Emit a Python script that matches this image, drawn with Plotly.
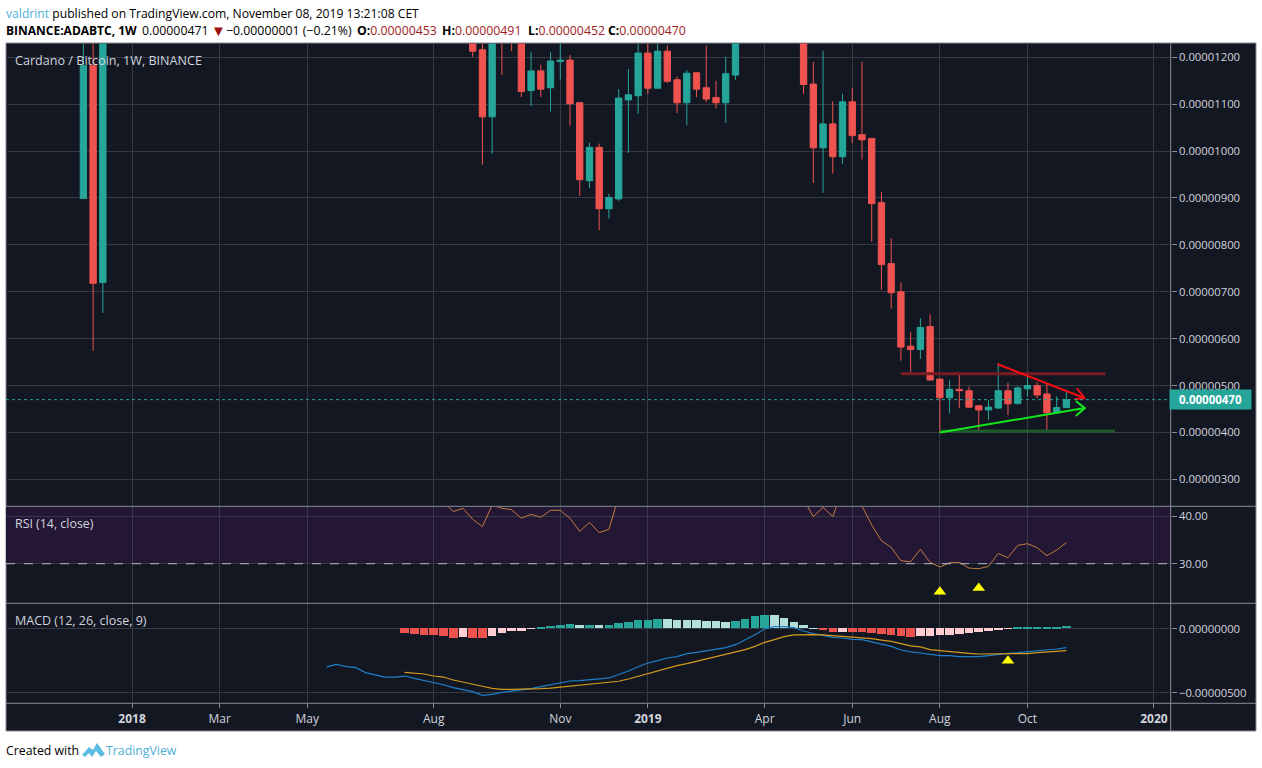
import pandas as pd
import plotly.graph_objects as go
from plotly.subplots import make_subplots

W, H = 1262, 768
BASE = pd.Timestamp("2018-01-01")
U = 1e-6


def wk(k):
    return (BASE + pd.to_timedelta(k * 7, unit="D")).isoformat()


# Candles (week index from 2018-01-01, prices in 1e-6 BTC)
weeks = [-5, -4, -3] + list(range(35, 63)) + list(range(69, 97))
opens = [8.99, 11.82, 7.20,
         12.50, 12.16, 10.73, 13.50, 13.40, 12.50, 11.29, 11.71, 11.35, 11.91, 11.94, 11.03, 9.37, 10.08,
         8.77, 8.98, 11.09, 11.18, 12.09, 11.34, 12.13, 11.52, 11.03, 11.67, 11.35, 11.14, 11.03, 11.62,
         12.60, 11.43, 10.07, 10.58, 9.88, 11.05, 10.35, 10.27, 8.90, 7.60, 7.00, 5.84, 5.77, 6.26,
         5.14, 4.74, 4.92, 4.89, 4.57, 4.48, 4.52, 4.89, 4.62, 4.93, 5.00, 4.82, 4.42, 4.53]
highs = [12.50, 12.50, 13.00,
         12.60, 12.40, 12.80, 13.60, 13.50, 12.80, 12.12, 11.84, 12.11, 12.30, 12.05, 11.05, 10.18, 10.16,
         9.09, 11.32, 11.75, 12.30, 12.30, 12.30, 12.25, 11.59, 11.73, 11.69, 12.25, 11.50, 12.01, 12.80,
         12.80, 11.90, 12.14, 11.06, 11.22, 11.35, 11.91, 10.27, 9.13, 8.14, 7.20, 6.14, 6.44, 6.52,
         5.14, 5.11, 5.23, 4.98, 4.57, 4.69, 5.46, 5.06, 4.99, 5.28, 5.07, 5.05, 4.77, 4.91]
lows = [8.99, 5.74, 6.55,
        12.01, 9.71, 9.94, 11.62, 12.13, 11.15, 10.96, 11.15, 10.84, 11.53, 10.54, 9.05, 9.21, 8.31,
        8.56, 8.94, 9.96, 10.79, 11.22, 11.34, 11.45, 10.81, 10.55, 11.15, 11.04, 10.91, 10.60, 11.52,
        11.22, 9.32, 9.11, 9.52, 9.73, 10.17, 9.82, 8.07, 7.04, 6.64, 5.53, 5.26, 5.57, 5.10,
        4.00, 4.41, 4.52, 4.53, 4.05, 4.27, 4.50, 4.37, 4.59, 4.77, 4.73, 4.02, 4.42, 4.52]
closes = [11.82, 7.18, 12.60,
          12.13, 10.73, 12.60, 12.50, 12.40, 11.27, 11.71, 11.32, 11.92, 11.94, 11.01, 9.39, 10.08, 8.77,
          9.01, 11.13, 11.20, 12.09, 11.34, 12.13, 11.49, 11.03, 11.66, 11.32, 11.11, 11.03, 11.65, 12.60,
          11.42, 10.07, 10.58, 9.88, 11.05, 10.33, 10.24, 8.88, 7.58, 6.98, 5.82, 5.77, 6.24, 5.12,
          4.74, 4.92, 4.89, 4.54, 4.48, 4.54, 4.89, 4.61, 4.95, 5.00, 4.80, 4.42, 4.53, 4.70]

# RSI (14), None where the line runs off the pane
rsi_weeks = list(range(32, 51)) + [None] + list(range(69, 74)) + [None] + list(range(75, 97))
rsi_vals = [43.1, 40.99, 41.69, 39.37, 37.82, 42.39, 41.69, 41.41, 39.58, 40.42, 39.79, 41.27, 41.27, 39.58,
            36.83, 38.73, 36.55, 37.25, 44.2, None,
            43.6, 39.93, 41.9, 39.93, 45.8, None,
            42.2, 38.17, 34.86, 33.45, 30.63, 30.42, 33.03, 30.28, 29.3, 30.21, 30.28, 29.08, 28.94, 29.44,
            32.18, 31.27, 33.87, 34.23, 33.38, 31.69, 32.89, 34.44]

# MACD (values in 1e-6)
macd_weeks = list(range(20, 97))
macd_vals = [-2.99, -2.79, -2.97, -3.05, -3.44, -3.62, -3.78, -3.78, -3.70, -3.88, -4.04, -4.19, -4.38, -4.61,
             -4.77, -4.92, -5.21, -5.13, -4.97, -4.87, -4.82, -4.69, -4.53, -4.38, -4.19, -4.09, -4.06, -4.01,
             -3.93, -3.85, -3.59, -3.31, -2.97, -2.68, -2.50, -2.29, -2.19, -1.95, -1.85, -1.72, -1.64, -1.48,
             -1.25, -0.89, -0.47, -0.03, 0.16, 0.16, 0.08, -0.18, -0.39, -0.52, -0.68, -0.73, -0.83, -0.86,
             -1.04, -1.22, -1.38, -1.67, -1.82, -1.90, -2.03, -2.11, -2.11, -2.19, -2.19, -2.19, -2.11, -2.00,
             -1.93, -1.88, -1.82, -1.74, -1.67, -1.59, -1.48]
signal_weeks = list(range(28, 97))
signal_vals = [-3.41, -3.49, -3.54, -3.70, -3.78, -4.01, -4.19, -4.35, -4.50, -4.66, -4.74, -4.74, -4.74, -4.71,
               -4.69, -4.64, -4.56, -4.48, -4.43, -4.35, -4.27, -4.19, -4.11, -3.93, -3.72, -3.52, -3.31, -3.13,
               -2.89, -2.73, -2.55, -2.40, -2.24, -2.06, -1.88, -1.64, -1.38, -1.07, -0.86, -0.62, -0.49, -0.47,
               -0.47, -0.49, -0.55, -0.60, -0.65, -0.70, -0.78, -0.89, -0.99, -1.17, -1.35, -1.43, -1.64, -1.72,
               -1.80, -1.85, -1.93, -1.98, -1.98, -1.98, -1.98, -1.98, -1.95, -1.88, -1.82, -1.80, -1.72]
hist_weeks = list(range(28, 97))
hist_vals = [-0.36, -0.44, -0.52, -0.52, -0.60, -0.78, -0.68, -0.78, -0.78, -0.60, -0.36, -0.23, -0.23, -0.03,
             0.03, 0.18, 0.29, 0.36, 0.26, 0.26, 0.29, 0.26, 0.42, 0.52, 0.65, 0.65, 0.73, 0.76, 0.65, 0.65,
             0.65, 0.55, 0.55, 0.47, 0.57, 0.73, 0.96, 1.04, 1.04, 0.81, 0.49, 0.26, 0.02, -0.07, -0.29, -0.26,
             -0.26, -0.30, -0.39, -0.44, -0.49, -0.60, -0.68, -0.60, -0.60, -0.49, -0.49, -0.42, -0.36, -0.29,
             -0.20, -0.13, -0.02, 0.05, 0.10, 0.10, 0.10, 0.10, 0.20]
# r = falling red, p = rising pink, t = rising teal, l = falling pale teal
hist_kind = list("rrrrrr" "p" "rr" "ppppp" "tttt" "l" "t" "l" "t" "ttttt" "lllllll" "tttt" "lllll"
                 "rr" "p" "rrrrrrr" "pppppppppp" "tttttt")
HIST_COLORS = {"r": "#ef5350", "p": "#ffcdd2", "t": "#26a69a", "l": "#b2dfdb"}

# Drawings on the price pane
resist_weeks, resist_vals = [79, 100], [5.25, 5.25]
support_weeks, support_vals = [83, 101], [4.03, 4.03]
red_weeks = [88.9, 97.9, 97.07, 97.9, 96.83]
red_vals = [5.46, 4.73, 4.94, 4.73, 4.71]
green_weeks = [83, 97.9, 96.97, 97.9, 96.97]
green_vals = [4.00, 4.52, 4.67, 4.52, 4.35]
last_price = 4.70

# Yellow markers
rsi_mark_weeks, rsi_mark_vals = [83, 87], [24.1, 24.9]
macd_mark_weeks, macd_mark_vals = [90], [-2.5]

tick_weeks = [0, 9, 18, 31, 44, 53, 65, 74, 83, 92, 105]
tick_labels = ["<b>2018</b>", "Mar", "May", "Aug", "Nov", "<b>2019</b>", "Apr", "Jun", "Aug", "Oct", "<b>2020</b>"]

BG = "#131722"
GRID = "#363a45"
EDGE = "#8a8d96"
TXT = "#d1d4dc"
TEAL = "#26a69a"
RED = "#ef5350"
FONT = "Open Sans"


def fx(x):
    return x / W


def fy(y):
    return 1 - y / H


fig = make_subplots(rows=3, cols=1, shared_xaxes=True, vertical_spacing=0)

fig.add_trace(go.Candlestick(
    x=[wk(k) for k in weeks], open=[v * U for v in opens], high=[v * U for v in highs],
    low=[v * U for v in lows], close=[v * U for v in closes],
    increasing=dict(line=dict(color=TEAL, width=1), fillcolor=TEAL),
    decreasing=dict(line=dict(color=RED, width=1), fillcolor=RED),
    showlegend=False), row=1, col=1)


def line(xs, ys, color, width, row, scale=1.0):
    fig.add_trace(go.Scatter(
        x=[None if k is None else wk(k) for k in xs],
        y=[None if v is None else v * scale for v in ys],
        mode="lines", line=dict(color=color, width=width), showlegend=False), row=row, col=1)


line(resist_weeks, resist_vals, "#7b1c22", 3, 1, U)
line(support_weeks, support_vals, "#1d5a28", 3, 1, U)
line(red_weeks, red_vals, "#f20d14", 2, 1, U)
line(green_weeks, green_vals, "#14e61e", 2, 1, U)

line(rsi_weeks, rsi_vals, "#c27c3e", 1, 2)
fig.add_trace(go.Scatter(x=[wk(k) for k in rsi_mark_weeks], y=rsi_mark_vals, mode="markers",
                         marker=dict(symbol="triangle-up", size=11, color="#ffff00"),
                         showlegend=False), row=2, col=1)

fig.add_trace(go.Bar(x=[wk(k) for k in hist_weeks], y=[v * U for v in hist_vals],
                     marker=dict(color=[HIST_COLORS[c] for c in hist_kind], line=dict(width=0)),
                     width=7 * 86400000 * 0.88, showlegend=False), row=3, col=1)
line(macd_weeks, macd_vals, "#1f7fc9", 1.2, 3, U)
line(signal_weeks, signal_vals, "#d29a1e", 1.2, 3, U)
fig.add_trace(go.Scatter(x=[wk(k) for k in macd_mark_weeks], y=[v * U for v in macd_mark_vals], mode="markers",
                         marker=dict(symbol="triangle-up", size=11, color="#ffff00"),
                         showlegend=False), row=3, col=1)

tickvals = [wk(k) for k in tick_weeks]
fig.update_xaxes(range=[wk(-12.95), wk(106.72)], tickvals=tickvals, ticktext=tick_labels,
                 showgrid=True, gridcolor=GRID, gridwidth=1, zeroline=False, showline=False,
                 rangeslider_visible=False, domain=[fx(6), fx(1170.7)],
                 tickfont=dict(family=FONT, size=12, color=TXT))
fig.update_xaxes(ticks="outside", ticklen=4, tickcolor=EDGE, row=3, col=1)

axis_common = dict(side="right", showgrid=True, gridcolor=GRID, gridwidth=1, zeroline=False, showline=False,
                   ticks="outside", ticklen=5, tickcolor=EDGE,
                   tickfont=dict(family=FONT, size=11.3, color=TXT))
fig.update_yaxes(range=[2.426 * U, 12.294 * U], domain=[fy(506.3), fy(43.5)], tickmode="array",
                 tickvals=[v * U for v in range(3, 13)], tickformat=".8f", row=1, col=1, **axis_common)
fig.update_yaxes(range=[21.65, 42.11], domain=[fy(603.3), fy(506.3)], tickmode="array",
                 tickvals=[30, 40], tickformat=".2f", row=2, col=1, **axis_common)
fig.update_yaxes(range=[-5.83 * U, 1.98 * U], domain=[fy(703.3), fy(603.3)], tickmode="array",
                 tickvals=[-5 * U, 0.0], tickformat=".8f", row=3, col=1, **axis_common)

shapes = [
    dict(type="rect", xref="paper", yref="paper", x0=fx(6), x1=fx(1256), y0=fy(731), y1=fy(43),
         fillcolor=BG, line=dict(color=EDGE, width=1), layer="below"),
    dict(type="rect", xref="x domain", yref="y2", x0=0, x1=1, y0=30, y1=42.11,
         fillcolor="#241736", line=dict(width=0), layer="below"),
    dict(type="line", xref="x domain", yref="y2", x0=0, x1=1, y0=30, y1=30,
         line=dict(color="#b5b8c2", width=1, dash="dash")),
    dict(type="line", xref="x domain", yref="y", x0=0, x1=1, y0=last_price * U, y1=last_price * U,
         line=dict(color=TEAL, width=1, dash="dot")),
]
for y in (506.3, 603.3, 703.3):
    shapes.append(dict(type="line", xref="paper", yref="paper", x0=fx(6), x1=fx(1256), y0=fy(y), y1=fy(y),
                       line=dict(color=EDGE, width=1)))
shapes.append(dict(type="line", xref="paper", yref="paper", x0=fx(1170.7), x1=fx(1170.7), y0=fy(43), y1=fy(731),
                   line=dict(color=EDGE, width=1)))
logo = [(82, 755), (89, 747), (93, 750), (97, 743), (105, 754), (101, 757), (96, 751), (92, 757), (89, 753), (85, 757)]
shapes.append(dict(type="path", xref="paper", yref="paper",
                   path="M" + " L".join(f"{fx(a):.5f},{fy(b):.5f}" for a, b in logo) + " Z",
                   fillcolor="#5cbde4", line=dict(width=0)))


def label(x, y, text, size=12.5, color="#000000"):
    return dict(xref="paper", yref="paper", x=fx(x - 2), y=fy(y), xanchor="left", yanchor="middle", text=text,
                showarrow=False, align="left", font=dict(family=FONT, size=size, color=color))


DM = '<span style="color:#a01c1c">'
annotations = [
    label(6, 13, '<span style="color:#4fb0d8">valdrint</span> published on TradingView.com, '
                 'November 08, 2019 13:21:08 CET', 12.15),
    label(6, 30, '<b>BINANCE:ADABTC, 1W</b>', 12),
    label(142, 30, '0.00000471', 12.3),
    label(211, 30, '<span style="color:#a01010;font-size:15px">▼</span>', 12.3),
    label(226, 30, '−0.00000001 (−0.21%)', 12.3),
    label(357, 30, f'<b>O:</b>{DM}0.00000453</span>', 12.3),
    label(442, 30, f'<b>H:</b>{DM}0.00000491</span>', 12.3),
    label(528, 30, f'<b>L:</b>{DM}0.00000452</span>', 12.3),
    label(608, 30, f'<b>C:</b>{DM}0.00000470</span>', 12.3),
    label(15, 60, "Cardano / Bitcoin, 1W, BINANCE", 12.6, TXT),
    label(15, 523, "RSI (14, close)", 12.4, TXT),
    label(15, 620, "MACD (12, 26, close, 9)", 12.5, TXT),
    label(6, 750, "Created with", 12.3, "#000000"),
    label(106, 750, "TradingView", 12.3, "#4fb0d8"),
    dict(xref="paper", yref="y", x=fx(1210), y=last_price * U, xanchor="center", yanchor="middle",
         text="<b>0.00000470</b>", showarrow=False, bgcolor=TEAL, width=79, height=17, borderpad=1,
         font=dict(family=FONT, size=11.5, color="#ffffff")),
]

fig.update_layout(width=W, height=H, margin=dict(l=0, r=0, t=0, b=0, pad=0), autosize=False,
                  paper_bgcolor="#ffffff", plot_bgcolor=BG, showlegend=False, bargap=0,
                  boxgap=0.35, boxgroupgap=0,
                  shapes=shapes, annotations=annotations, font=dict(family=FONT))

fig.write_html("out.html", config={"displayModeBar": False},
               post_script="document.body.style.margin='0';document.body.style.overflow='hidden';")
